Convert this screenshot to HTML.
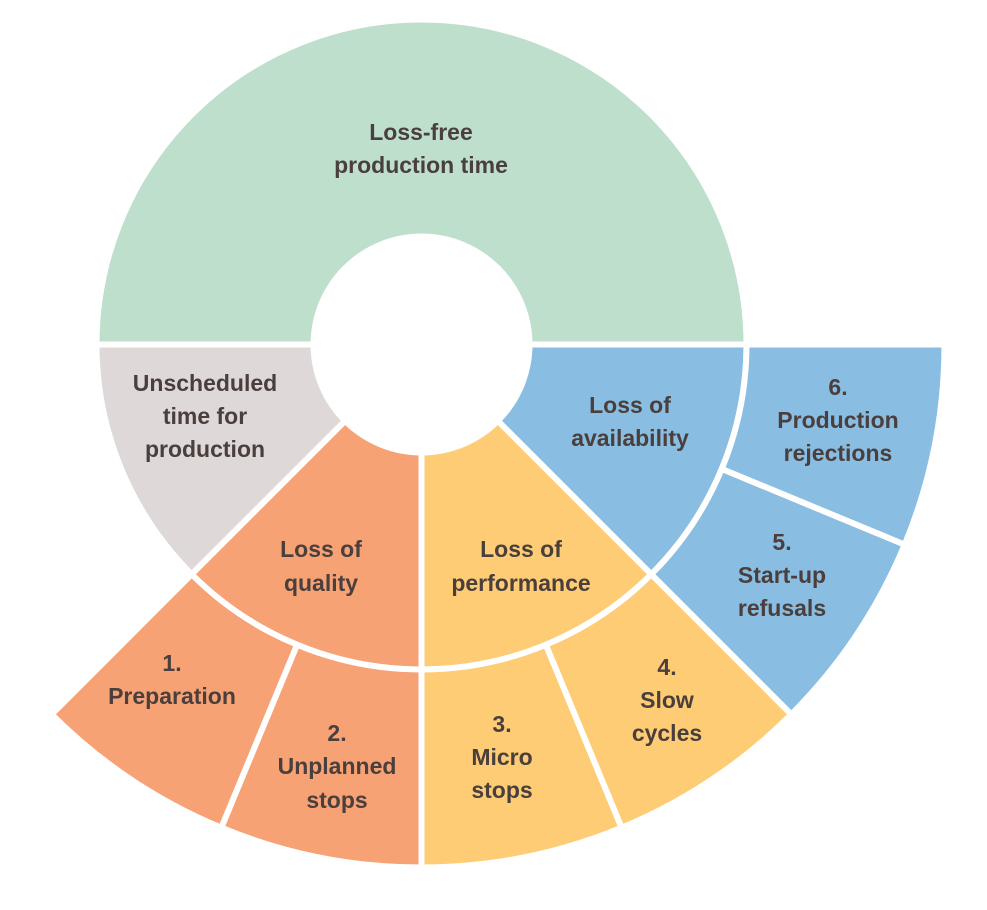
<!DOCTYPE html>
<html><head><meta charset="utf-8"><style>
html,body{margin:0;padding:0;background:#fff;}
svg{display:block}
text{font-family:"Liberation Sans",sans-serif;font-weight:bold;font-size:23px;fill:#4a3f3c;text-anchor:middle;dominant-baseline:central}
</style></head><body>
<svg id="s" width="987" height="910" viewBox="0 0 987 910">
<g id="shapes"></g>
<circle cx="421.5" cy="344.5" r="111" fill="#fff"/>
<text x="421" y="132">Loss-free</text>
<text x="421" y="165">production time</text>
<text x="205" y="383">Unscheduled</text>
<text x="205" y="416">time for</text>
<text x="205" y="449">production</text>
<text x="321" y="549">Loss of</text>
<text x="321" y="583">quality</text>
<text x="521" y="549">Loss of</text>
<text x="521" y="583">performance</text>
<text x="630" y="405">Loss of</text>
<text x="630" y="438">availability</text>
<text x="838" y="387">6.</text>
<text x="838" y="420">Production</text>
<text x="838" y="453">rejections</text>
<text x="782" y="542">5.</text>
<text x="782" y="575">Start-up</text>
<text x="782" y="608">refusals</text>
<text x="667" y="667">4.</text>
<text x="667" y="700">Slow</text>
<text x="667" y="733">cycles</text>
<text x="502" y="724">3.</text>
<text x="502" y="757">Micro</text>
<text x="502" y="790">stops</text>
<text x="337" y="733">2.</text>
<text x="337" y="766">Unplanned</text>
<text x="337" y="800">stops</text>
<text x="172" y="663">1.</text>
<text x="172" y="696">Preparation</text>
</svg>
<script>
var cx=421.5,cy=344.5,g=document.getElementById('shapes');
function p(r,a){a=a*Math.PI/180;return (cx+r*Math.cos(a)).toFixed(2)+','+(cy+r*Math.sin(a)).toFixed(2);}
function sec(r0,r1,a0,a1,c){
 var large=(a1-a0)>180?1:0;
 var d='M'+p(r0,a0)+'L'+p(r1,a0)+'A'+r1+','+r1+' 0 '+large+' 1 '+p(r1,a1)+'L'+p(r0,a1)+'A'+r0+','+r0+' 0 '+large+' 0 '+p(r0,a0)+'Z';
 var e=document.createElementNS('http://www.w3.org/2000/svg','path');
 e.setAttribute('d',d);e.setAttribute('fill',c);e.setAttribute('stroke','#fff');e.setAttribute('stroke-width','6');e.setAttribute('stroke-linejoin','miter');
 g.appendChild(e);
}
var G='#bddfcb',Y='#ded8d8',O='#f6a274',L='#fdcc75',B='#89bde2';
sec(0,325,180,360,G);
sec(0,325,135,180,Y);
sec(0,325,90,135,O);
sec(0,325,45,90,L);
sec(0,325,0,45,B);
sec(325,523,112.5,135,O);
sec(325,523,90,112.5,O);
sec(325,523,67.5,90,L);
sec(325,523,45,67.5,L);
sec(325,523,22.5,45,B);
sec(325,523,0,22.5,B);
</script>
</body></html>
